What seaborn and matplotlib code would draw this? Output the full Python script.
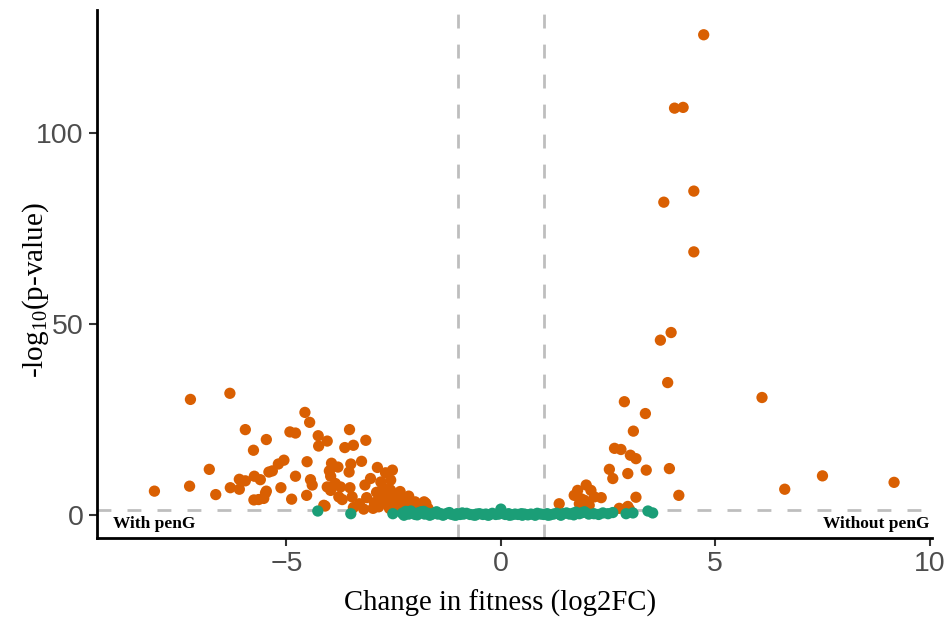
import numpy as np
import pandas as pd
import matplotlib
matplotlib.use("Agg")
import matplotlib.pyplot as plt
import seaborn as sns

# ---- data (log2FC, -log10 p) ----
sig_x = [-8.08, -7.24, -7.26, -6.32, -6.80, -6.65, -6.31, -6.10, -6.10, -5.96,
         -5.96, -5.47, -5.77, -5.75, -5.61, -5.41, -5.33, -5.19, -5.06, -4.92,
         -4.79, -5.13, -5.76, -5.65, -5.53, -5.49, -5.47, -4.88, -4.57, -4.46,
         -4.26, -4.05, -4.25, -4.52, -4.79, -4.44, -4.40, -4.53, -3.95, -3.80,
         -4.00, -4.05, -4.10, -3.53, -3.64, -3.44, -3.15, -3.50, -3.25, -3.54,
         -2.88, -2.69, -2.53, -3.97, -3.86, -3.97, -3.74, -3.52, -3.78, -3.70,
         -3.47, -4.13, -3.44, -3.17, -3.04, -3.13, -2.80, -2.57, -2.00, -1.75,
         -2.90, -2.80, -2.70, -2.65, -2.60, -2.55, -2.50, -2.45, -2.40, -2.35,
         -2.30, -2.25, -2.20, -2.15, -2.10, -2.05, -2.85, -2.75, -2.95, -2.60,
         -2.40, -1.90, -1.85, -2.25, -3.30, -3.20, -2.98, -1.70, -2.57, -1.79,
         1.36, 1.99, 1.79, 1.71, 2.10, 1.87, 1.95, 1.83, 2.18, 2.34,
         2.06, 1.99, 2.76, 2.96, 3.00, 2.88, 3.37, 3.09, 2.65, 2.80,
         3.02, 3.15, 2.53, 2.61, 2.96, 3.39, 3.15, 3.89, 3.93, 4.15,
         3.72, 3.97, 4.73, 4.05, 4.25, 4.50, 3.80, 4.50, 6.09, 6.62,
         7.50, 9.17]
sig_y = [6.3, 30.3, 7.6, 31.9, 12.0, 5.4, 7.2, 6.8, 9.4, 9.0,
         22.4, 19.8, 17.0, 10.2, 9.3, 11.3, 11.6, 13.4, 14.4, 21.8,
         21.5, 7.2, 4.0, 4.1, 4.4, 5.8, 6.3, 4.2, 26.9, 24.3,
         20.8, 19.4, 18.1, 14.0, 10.2, 9.3, 7.9, 5.2, 13.6, 12.6,
         11.6, 7.4, 2.4, 22.4, 17.7, 18.3, 19.6, 13.4, 14.1, 11.3,
         12.5, 11.1, 11.8, 10.2, 8.3, 6.5, 7.4, 7.2, 4.8, 4.1,
         4.8, 2.6, 2.0, 7.9, 9.6, 4.6, 8.7, 9.2, 3.5, 3.1,
         6.0, 4.5, 5.5, 3.0, 6.8, 4.0, 2.5, 5.2, 3.5, 6.2,
         2.2, 4.5, 3.0, 5.0, 2.0, 1.6, 2.2, 7.2, 3.3, 1.8,
         1.5, 2.5, 1.6, 1.8, 3.0, 1.6, 1.8, 1.8, 6.5, 3.5,
         3.0, 7.9, 6.5, 5.2, 6.5, 4.3, 3.9, 3.0, 4.8, 4.6,
         2.6, 1.8, 1.8, 2.3, 1.5, 29.7, 26.6, 22.0, 17.5, 17.2,
         15.7, 14.8, 12.0, 9.6, 10.9, 11.8, 4.7, 34.7, 12.2, 5.2,
         45.8, 47.8, 125.7, 106.5, 106.7, 84.8, 81.9, 68.9, 30.8, 6.8,
         10.3, 8.6]

ns_x = [-4.27, -3.50, -2.52, 0.00,
        -2.30, -2.22, -2.15, -2.08, -2.00, -1.93, -1.86, -1.78, -1.70, -1.62,
        -1.55, -1.47, -1.40, -1.32, -1.25, -1.17, -1.10, -1.02, -0.95, -0.87,
        -0.80, -0.72, -0.65, -0.57, -0.50, -0.42, -0.35, -0.27, -0.20, -0.12,
        -0.05, 0.03, 0.10, 0.18, 0.25, 0.33, 0.40, 0.48, 0.55, 0.63,
        0.70, 0.78, 0.85, 0.93, 1.00, 1.08, 1.15, 1.23, 1.30, 1.38,
        1.45, 1.53, 1.60, 1.68, 1.75, 1.83, 1.90,
        -2.26, -2.10, -1.95, -1.80, -1.66, -1.50, -1.35, -1.20, -1.05, -0.90,
        -0.60, -0.30, 0.20, 0.50, 0.80, 1.10, 1.40, 1.70,
        1.95, 2.17, 2.38, 2.61, 2.92, 3.08, 3.43, 3.54, 2.05, 2.28, 2.50]
ns_y = [1.1, 0.4, 0.4, 1.6,
        0.5, 1.0, 0.3, 0.8, 0.2, 0.6, 0.9, 0.3, 0.5, 0.2,
        0.6, 0.3, 0.4, 0.2, 0.5, 0.3, 0.1, 0.4, 0.2, 0.3,
        0.5, 0.2, 0.1, 0.3, 0.4, 0.2, 0.3, 0.1, 0.5, 0.2,
        0.3, 0.6, 0.2, 0.4, 0.1, 0.3, 0.2, 0.4, 0.3, 0.1,
        0.3, 0.2, 0.5, 0.3, 0.2, 0.4, 0.1, 0.3, 0.5, 0.2,
        0.4, 0.6, 0.3, 0.5, 0.8, 0.4, 0.7,
        0.0, 1.1, 0.1, 1.0, 0.0, 0.9, 0.0, 0.7, 0.0, 0.6,
        0.0, 0.0, 0.0, 0.0, 0.0, 0.0, 0.0, 0.1,
        0.9, 0.4, 0.6, 0.7, 0.4, 0.6, 1.1, 0.6, 0.3, 0.2, 0.4]

x_ticks = [-5, 0, 5, 10]
y_ticks = [0, 50, 100]
fc_cut = [-1, 1]
p_cut = 1.3
palette = {"sig": "#D95F02", "ns": "#1B9E77"}

df = pd.DataFrame({
    "log2FC": sig_x + ns_x,
    "nlp": sig_y + ns_y,
    "group": ["sig"] * len(sig_x) + ["ns"] * len(ns_x),
})

sns.set_theme(style="ticks")
plt.rcParams["font.family"] = ["Liberation Sans", "DejaVu Sans"]
plt.rcParams["mathtext.default"] = "regular"

fig = plt.figure(figsize=(9.46, 6.2), dpi=100)
ax = fig.add_axes([0.1025, 0.132, 0.8825, 0.852])

sns.scatterplot(data=df, x="log2FC", y="nlp", hue="group", palette=palette,
                s=66, edgecolor="none", linewidth=0, legend=False, ax=ax, zorder=3)

dash = (0, (5, 5.8))
for v in fc_cut:
    ax.axvline(v, color="#BEBEBE", lw=2, ls=dash, zorder=1)
ax.axhline(p_cut, color="#BEBEBE", lw=2, ls=dash, zorder=1)

ax.set_xlim(-9.42, 10.05)
ax.set_ylim(-6.0, 132.2)
ax.set_xticks(x_ticks)
ax.set_yticks(y_ticks)
ax.tick_params(axis="both", labelsize=20.5, colors="#4D4D4D", length=6, width=1.5)
ax.tick_params(axis="both", which="both", color="#333333")
for side in ["top", "right"]:
    ax.spines[side].set_visible(False)
for side in ["left", "bottom"]:
    ax.spines[side].set_color("black")
    ax.spines[side].set_linewidth(2)

serif = ["Liberation Serif", "DejaVu Serif"]
ax.set_xlabel("Change in fitness (log2FC)", fontsize=20.7, family=serif, color="black")
ax.set_ylabel(r"-log$_{10}$(p-value)", fontsize=21, family=serif, color="black")
ax.xaxis.set_label_coords(0.483, -0.098)
ax.yaxis.set_label_coords(-0.074, 0.47)
ax.yaxis.label.set_va("center")

ax.text(-9.05, -2.3, "With penG", family=serif, fontweight="bold", fontsize=12.5,
        ha="left", va="center", color="black")
ax.text(10.0, -2.3, "Without penG", family=serif, fontweight="bold", fontsize=12.5,
        ha="right", va="center", color="black")

fig.savefig("out.png", dpi=100)
